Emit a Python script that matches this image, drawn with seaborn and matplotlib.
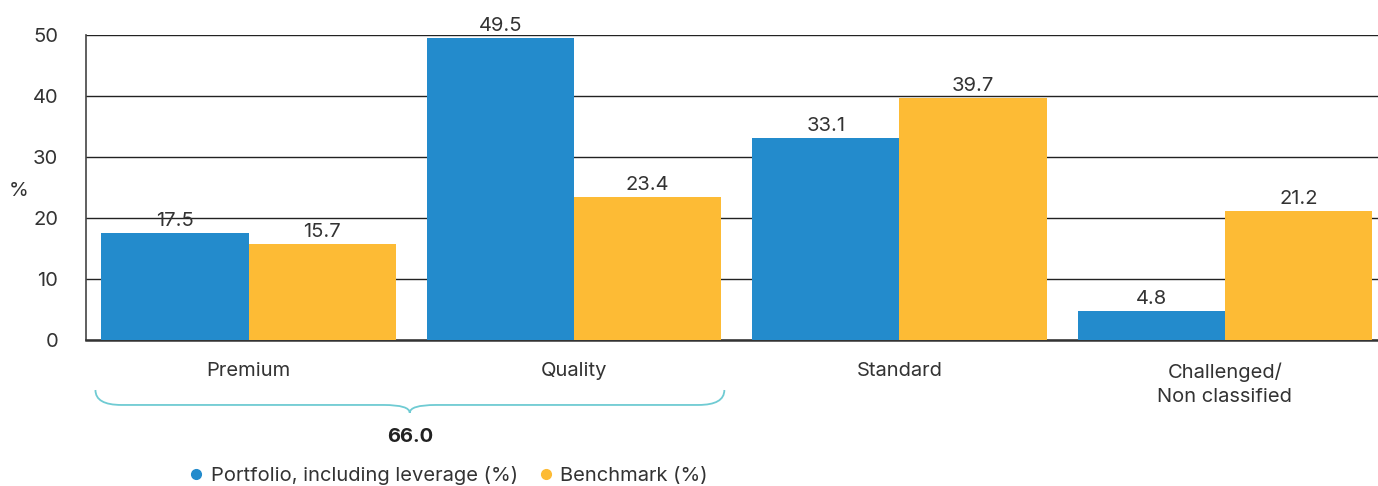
import numpy as np
import pandas as pd
import seaborn as sns
import matplotlib.pyplot as plt
from matplotlib.path import Path
from matplotlib.patches import PathPatch
from matplotlib.lines import Line2D
from matplotlib.transforms import blended_transform_factory

# data
categories = ["Premium", "Quality", "Standard", "Challenged/\nNon classified"]
portfolio = [17.5, 49.5, 33.1, 4.8]
benchmark = [15.7, 23.4, 39.7, 21.2]
series_names = ["Portfolio, including leverage (%)", "Benchmark (%)"]
bracket_total = "66.0"

blue = "#238BCC"
yellow = "#FDBB35"
txt = "#333333"

df = pd.DataFrame({
    "category": categories * 2,
    "value": portfolio + benchmark,
    "series": [series_names[0]] * 4 + [series_names[1]] * 4,
})

sns.set_style("white")
plt.rcParams["font.family"] = ["Inter", "DejaVu Sans"]

fig = plt.figure(figsize=(13.78, 4.86), dpi=100)
ax = fig.add_axes([86 / 1378, 146 / 486, 1292 / 1378, 305 / 486])

sns.barplot(data=df, x="category", y="value", hue="series",
            palette=[blue, yellow], width=0.905, gap=0, saturation=1,
            ax=ax, legend=False, zorder=3, linewidth=0, edgecolor="none")

for c in ax.containers:
    ax.bar_label(c, fmt="%.1f", padding=2, fontsize=14.5, color=txt)

ax.set_ylim(0, 50)
ax.set_xlim(-0.5, 3.471)
ax.set_yticks([0, 10, 20, 30, 40, 50])
ax.yaxis.grid(True, color="#222222", linewidth=1.0)
ax.set_axisbelow(True)
for s in ["top", "right"]:
    ax.spines[s].set_visible(False)
ax.spines["left"].set_color("#444444")
ax.spines["left"].set_linewidth(1.2)
ax.spines["bottom"].set_color("#333333")
ax.spines["bottom"].set_linewidth(1.8)
ax.tick_params(axis="y", length=0, labelsize=14.5, labelcolor=txt, pad=20)
ax.tick_params(axis="x", length=0, labelsize=14.5, labelcolor=txt, pad=16)
for lab in ax.get_xticklabels():
    lab.set_linespacing(1.45)
ax.set_xlabel("")
ax.set_ylabel("%", rotation=0, fontsize=14.5, color=txt, va="center")
ax.yaxis.set_label_coords(-0.052, 0.49)

# brace under Premium + Quality
tr = blended_transform_factory(ax.transData, ax.transAxes)
x0, x1, xc = -0.471, 1.462, 0.495
ytop, ymid, ytip = -0.164, -0.213, -0.239
r = 0.08
verts = [(x0, ytop), (x0, ymid), (x0 + r, ymid),
         (xc - r, ymid), (xc, ymid), (xc, ytip),
         (xc, ymid), (xc + r, ymid),
         (x1 - r, ymid), (x1, ymid), (x1, ytop)]
codes = [Path.MOVETO, Path.CURVE3, Path.CURVE3,
         Path.LINETO, Path.CURVE3, Path.CURVE3,
         Path.CURVE3, Path.CURVE3,
         Path.LINETO, Path.CURVE3, Path.CURVE3]
ax.add_patch(PathPatch(Path(verts, codes), transform=tr, fill=False,
                       edgecolor="#6FCBD3", linewidth=1.3, clip_on=False))
ax.text(xc, -0.317, bracket_total, transform=tr, ha="center", va="center",
        fontsize=14.5, fontweight="bold", color="#222222")

handles = [Line2D([], [], marker="o", linestyle="", markersize=7,
                  markerfacecolor=col, markeredgecolor=col)
           for col in [blue, yellow]]
fig.legend(handles, series_names, loc="center", bbox_to_anchor=(0.325, 0.022),
           ncol=2, frameon=False, fontsize=14.5, handlelength=0.8,
           handletextpad=0.3, columnspacing=1.0, labelcolor=txt)

fig.savefig("out.png", dpi=100)
